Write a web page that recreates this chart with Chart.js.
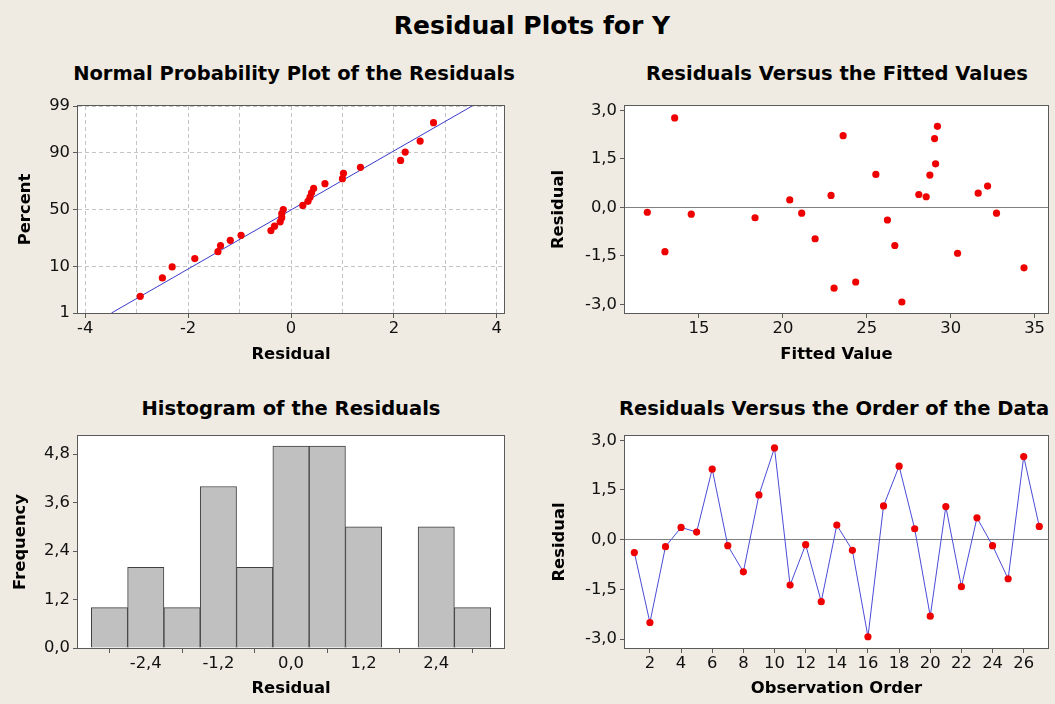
<!DOCTYPE html>
<html>
<head>
<meta charset="utf-8">
<script src="https://cdn.jsdelivr.net/npm/chart.js@4.4.1/dist/chart.umd.min.js"></script>
<style>
  html, body { margin: 0; padding: 0; }
  body { width: 1055px; height: 704px; background: #efebe2; position: relative; overflow: hidden; font-family: 'DejaVu Sans', sans-serif; }
  canvas { position: absolute; }
  .t { position: absolute; font-weight: bold; white-space: nowrap; color: #000; transform: translateX(-50%); }
</style>
</head>
<body>
<div class="t" style="left:532px;top:11px;font-size:25px;line-height:30px;">Residual Plots for Y</div>
<div class="t" style="left:294px;top:62px;font-size:19.5px;line-height:24px;">Normal Probability Plot of the Residuals</div>
<div class="t" style="left:837px;top:62px;font-size:19.5px;line-height:24px;">Residuals Versus the Fitted Values</div>
<div class="t" style="left:291px;top:397px;font-size:19.5px;line-height:24px;">Histogram of the Residuals</div>
<div class="t" style="left:834px;top:397px;font-size:19.5px;line-height:24px;">Residuals Versus the Order of the Data</div>

<canvas id="c1" width="527" height="280" style="left:0px;top:90px;"></canvas>
<canvas id="c2" width="508" height="280" style="left:547px;top:90px;"></canvas>
<canvas id="c3" width="527" height="284" style="left:0px;top:420px;"></canvas>
<canvas id="c4" width="508" height="284" style="left:547px;top:420px;"></canvas>

<script>
// ---------------- DATA ----------------
const observationOrder = [1,2,3,4,5,6,7,8,9,10,11,12,13,14,15,16,17,18,19,20,21,22,23,24,25,26,27];
const residuals = [-0.39,-2.50,-0.21,0.37,0.23,2.13,-0.18,-0.97,1.35,2.77,-1.37,-0.15,-1.87,0.44,-0.32,-2.93,1.02,2.22,0.33,-2.31,1.00,-1.42,0.66,-0.18,-1.18,2.51,0.40];
const fittedValues = [26.23,23.05,14.54,22.87,20.41,29.04,21.12,21.92,29.10,13.55,12.97,11.92,34.37,31.64,18.34,27.09,25.54,23.59,28.54,24.34,28.76,30.41,32.20,32.73,26.67,29.21,28.10];
// plotting positions (percent) of the ordered residuals on the normal probability plot
const nppPercents = [2.55,6.20,9.85,13.50,17.15,20.80,24.45,28.10,31.75,35.40,39.05,42.70,46.35,50.00,53.65,57.30,60.95,64.60,68.25,71.90,75.55,79.20,82.85,86.50,90.15,93.80,97.45];
const fitLineResidual = [-3.49, 3.52];
const fitLinePercent = [1, 99];
const histBinCenters = [-3.0,-2.4,-1.8,-1.2,-0.6,0.0,0.6,1.2,1.8,2.4,3.0];
const histCounts = [1,2,1,4,2,5,5,3,0,3,1];

// tick labels
const nppPercentTicks = [1,10,50,90,99];
const nppResidualTicks = [-4,-3,-2,-1,0,1,2,3,4];
const residualTicks = [-3.0,-1.5,0.0,1.5,3.0];
const fittedTicks = [15,20,25,30,35];
const freqTicks = [0.0,1.2,2.4,3.6,4.8];
const histResidualTicks = [-2.4,-1.2,0.0,1.2,2.4];
const orderTicks = [2,4,6,8,10,12,14,16,18,20,22,24,26];

// ---------------- HELPERS ----------------
function qnorm(p) {
  const a=[-3.969683028665376e+01,2.209460984245205e+02,-2.759285104469687e+02,1.383577518672690e+02,-3.066479806614716e+01,2.506628277459239e+00];
  const b=[-5.447609879822406e+01,1.615858368580409e+02,-1.556989798598866e+02,6.680131188771972e+01,-1.328068155288572e+01];
  const c=[-7.784894002430293e-03,-3.223964580411365e-01,-2.400758277161838e+00,-2.549732539343734e+00,4.374664141464968e+00,2.938163982698783e+00];
  const d=[7.784695709041462e-03,3.224671290700398e-01,2.445134137142996e+00,3.754408661907416e+00];
  const pl=0.02425, ph=1-pl; let q, r;
  if (p < pl) { q=Math.sqrt(-2*Math.log(p)); return (((((c[0]*q+c[1])*q+c[2])*q+c[3])*q+c[4])*q+c[5])/((((d[0]*q+d[1])*q+d[2])*q+d[3])*q+1); }
  if (p > ph) { q=Math.sqrt(-2*Math.log(1-p)); return -(((((c[0]*q+c[1])*q+c[2])*q+c[3])*q+c[4])*q+c[5])/((((d[0]*q+d[1])*q+d[2])*q+d[3])*q+1); }
  q=p-0.5; r=q*q;
  return (((((a[0]*r+a[1])*r+a[2])*r+a[3])*r+a[4])*r+a[5])*q/(((((b[0]*r+b[1])*r+b[2])*r+b[3])*r+b[4])*r+1);
}
const comma1 = v => Number(v).toFixed(1).replace('.', ',');

const FONT = "'DejaVu Sans', sans-serif";
const TICK_FONT = { family: FONT, size: 16.4 };
const TITLE_FONT = { family: FONT, size: 16.4, weight: 'bold' };
const FRAME = '#5a5a5a';
const RED = '#ee0000';

const framePlugin = {
  id: 'frame',
  beforeDraw(chart) {
    const { ctx, chartArea: a } = chart;
    ctx.save(); ctx.fillStyle = '#ffffff';
    ctx.fillRect(a.left, a.top, a.right - a.left, a.bottom - a.top);
    ctx.restore();
  },
  afterDraw(chart) {
    const { ctx, chartArea: a } = chart;
    ctx.save(); ctx.strokeStyle = FRAME; ctx.lineWidth = 1;
    ctx.strokeRect(Math.round(a.left) - 0.5, Math.round(a.top) - 0.5, Math.round(a.right - a.left) + 1, Math.round(a.bottom - a.top) + 1);
    ctx.restore();
  }
};

function xAxis({ min, max, tickValues, label, title, height, gridColor, gridDash, drawGrid, tickColor }) {
  return {
    type: 'linear', position: 'bottom', min, max, offset: false,
    afterBuildTicks: s => { s.ticks = tickValues.map(v => ({ value: v })); },
    afterFit: s => { s.height = height; },
    border: { display: false, dash: gridDash || [] },
    grid: {
      display: true, drawOnChartArea: !!drawGrid, color: gridColor || 'rgba(0,0,0,0)',
      drawTicks: true, tickLength: 5, tickColor: tickColor || FRAME, tickBorderDash: [], lineWidth: 1
    },
    ticks: { autoSkip: false, maxRotation: 0, minRotation: 0, padding: 1, color: '#111', font: TICK_FONT, callback: label },
    title: { display: true, text: title, color: '#000', font: TITLE_FONT, padding: { top: 0, bottom: 5 } }
  };
}
function yAxis({ min, max, tickValues, label, title, width, titlePad, gridColor, gridDash, drawGrid }) {
  return {
    type: 'linear', position: 'left', min, max,
    afterBuildTicks: s => { s.ticks = tickValues.map(v => ({ value: v })); },
    afterFit: s => { s.width = width; },
    border: { display: false, dash: gridDash || [] },
    grid: {
      display: true, drawOnChartArea: !!drawGrid, color: gridColor || 'rgba(0,0,0,0)',
      drawTicks: true, tickLength: 5, tickColor: FRAME, tickBorderDash: [], lineWidth: 1
    },
    ticks: { autoSkip: false, padding: 3, color: '#111', font: TICK_FONT, callback: label },
    title: { display: true, text: title, color: '#000', font: TITLE_FONT, padding: { top: titlePad, bottom: 0 } }
  };
}
const baseOptions = (padding) => ({
  responsive: false, animation: false, devicePixelRatio: 1,
  layout: { padding },
  plugins: { legend: { display: false }, tooltip: { enabled: false }, title: { display: false } },
  events: []
});

// ---------------- 1. Normal probability plot ----------------
const sortedResiduals = residuals.slice().sort((a, b) => a - b);
const zTicks = nppPercentTicks.map(p => qnorm(p / 100));
const opt1 = baseOptions({ top: 16, right: 23, bottom: 0, left: 0 });
opt1.scales = {
  x: xAxis({ min: -4.14, max: 4.14, tickValues: nppResidualTicks, height: 57, title: 'Residual',
    label: (v) => (Math.round(v) % 2 === 0 ? String(Math.round(v)) : ''),
    drawGrid: true, gridColor: '#c4c4c4', gridDash: [4, 3],
    tickColor: ctx => (ctx.tick && Math.round(ctx.tick.value) % 2 === 0 ? FRAME : 'rgba(0,0,0,0)') }),
  y: yAxis({ min: qnorm(0.01), max: qnorm(0.99), tickValues: zTicks, width: 78, titlePad: 16, title: 'Percent',
    label: (v, i) => String(nppPercentTicks[i]), drawGrid: true, gridColor: '#c4c4c4', gridDash: [4, 3] })
};
new Chart(document.getElementById('c1'), {
  type: 'scatter',
  data: { datasets: [
    { data: sortedResiduals.map((r, i) => ({ x: r, y: qnorm(nppPercents[i] / 100) })),
      pointRadius: 3.6, pointBackgroundColor: RED, pointBorderWidth: 0, order: 1 },
    { data: fitLineResidual.map((r, i) => ({ x: r, y: qnorm(fitLinePercent[i] / 100) })),
      showLine: true, borderColor: '#3a3acc', borderWidth: 1, pointRadius: 0, order: 2 }
  ] },
  options: opt1, plugins: [framePlugin]
});

// ---------------- 2. Residuals vs fitted ----------------
const zeroGrid = ctx => (ctx.tick && Math.abs(ctx.tick.value) < 1e-9 ? '#808080' : 'rgba(0,0,0,0)');
const opt2 = baseOptions({ top: 16, right: 7, bottom: 0, left: 0 });
opt2.scales = {
  x: xAxis({ min: 10.59, max: 35.8, tickValues: fittedTicks, height: 57, title: 'Fitted Value', label: v => String(v) }),
  y: yAxis({ min: -3.27, max: 3.14, tickValues: residualTicks, width: 78, titlePad: 2, title: 'Residual',
    label: v => comma1(v), drawGrid: true, gridColor: zeroGrid })
};
new Chart(document.getElementById('c2'), {
  type: 'scatter',
  data: { datasets: [
    { data: fittedValues.map((f, i) => ({ x: f, y: residuals[i] })),
      pointRadius: 3.6, pointBackgroundColor: RED, pointBorderWidth: 0 }
  ] },
  options: opt2, plugins: [framePlugin]
});

// ---------------- 3. Histogram ----------------
const opt3 = baseOptions({ top: 16, right: 23, bottom: 0, left: 0 });
opt3.scales = {
  x: xAxis({ min: -3.52, max: 3.52, tickValues: histResidualTicks, height: 56, title: 'Residual', label: v => comma1(v) }),
  y: yAxis({ min: 0, max: 5.25, tickValues: freqTicks, width: 78, titlePad: 10.5, title: 'Frequency', label: v => comma1(v) })
};
new Chart(document.getElementById('c3'), {
  type: 'bar',
  data: { datasets: [
    { data: histBinCenters.map((c, i) => ({ x: c, y: histCounts[i] })),
      backgroundColor: '#c0c0c0', borderColor: '#404040', borderWidth: 1,
      barPercentage: 1, categoryPercentage: 1, borderSkipped: 'start' }
  ] },
  options: opt3, plugins: [framePlugin]
});

// ---------------- 4. Residuals vs order ----------------
const opt4 = baseOptions({ top: 16, right: 7, bottom: 0, left: 0 });
opt4.scales = {
  x: xAxis({ min: 0.4, max: 27.56, tickValues: orderTicks, height: 56, title: 'Observation Order', label: v => String(v) }),
  y: yAxis({ min: -3.27, max: 3.13, tickValues: residualTicks, width: 78, titlePad: 2.5, title: 'Residual',
    label: v => comma1(v), drawGrid: true, gridColor: zeroGrid })
};
new Chart(document.getElementById('c4'), {
  type: 'scatter',
  data: { datasets: [
    { data: observationOrder.map((o, i) => ({ x: o, y: residuals[i] })),
      showLine: true, borderColor: '#4b4bd8', borderWidth: 1,
      pointRadius: 3.6, pointBackgroundColor: RED, pointBorderWidth: 0 }
  ] },
  options: opt4, plugins: [framePlugin]
});
</script>
</body>
</html>
